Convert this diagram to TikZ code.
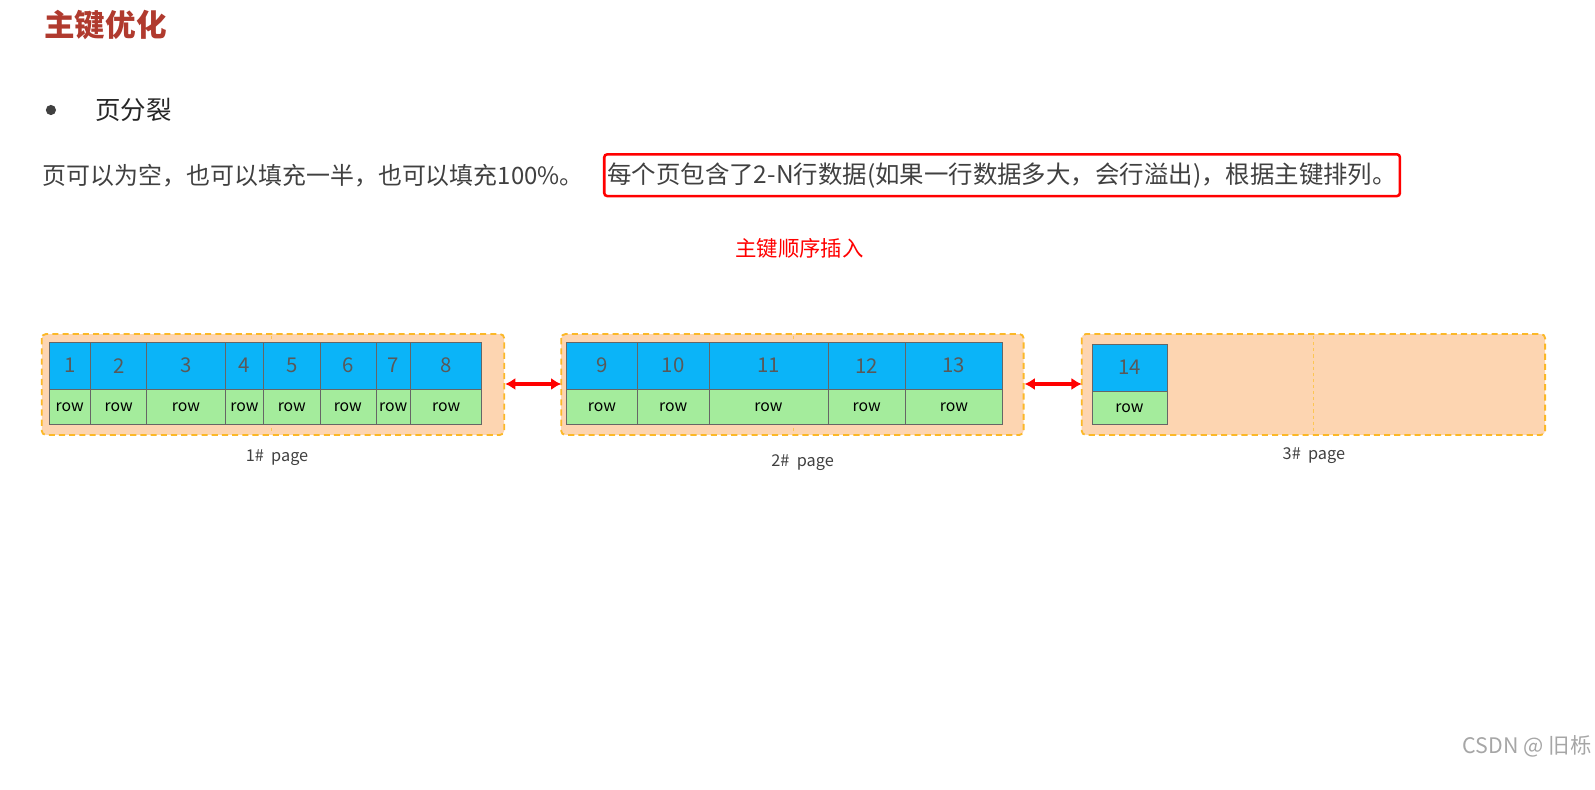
\documentclass[tikz,border=0pt]{standalone}
\usepackage{fontspec}
\setmainfont{Noto Sans CJK SC}
\usetikzlibrary{arrows.meta}
\definecolor{blu}{HTML}{0BB4F8}
\definecolor{grn}{HTML}{A4EC9C}
\definecolor{pg}{HTML}{FDD5B1}
\definecolor{pgb}{HTML}{FBB828}
\definecolor{ttl}{HTML}{B03A2E}
\definecolor{txt}{HTML}{404040}
\begin{document}
\begin{tikzpicture}[x=1pt,y=-1pt,
 page/.style={draw=pgb,fill=pg,line width=1.8pt,dash pattern=on 6pt off 4pt,rounded corners=4pt},
 key/.style={draw=black!60,fill=blu,line width=0.6pt,text=black!65,font=\fontsize{20}{20}\selectfont},
 rw/.style={draw=black!60,fill=grn,line width=0.6pt,font=\fontsize{15.5}{15.5}\selectfont},
 lnk/.style={red,line width=3pt,{Latex[length=10pt,width=12pt]}-{Latex[length=10pt,width=12pt]}},
 lbl/.style={font=\fontsize{16}{16}\selectfont,text=black!75}]
\useasboundingbox (0,0) rectangle (1566,774.7);
\node[anchor=west,text=ttl,font=\fontsize{30}{30}\selectfont\bfseries] (title) at (40,25) {主键优化};
\node[circle,fill=txt,inner sep=0pt,minimum size=10pt] (bul) at (50,108) {};
\node[anchor=west,text=black!85,font=\fontsize{25}{25}\selectfont] (h) at (90,108) {页分裂};
\node[anchor=west,text=txt,font=\fontsize{23.5}{24}\selectfont,inner sep=0pt] (p1) at (42,172) {页可以为空，也可以填充一半，也可以填充100\%。};
\node[anchor=west,text=txt,font=\fontsize{24}{24}\selectfont,inner xsep=3pt,inner ysep=8pt,draw=red,line width=2.5pt,rounded corners=3pt] (p2) at (592,172) {每个页包含了2-N行数据(如果一行数据多大，会行溢出)，根据主键排列。};
\node[text=red,font=\fontsize{21}{21}\selectfont] (sub) at (785,244) {主键顺序插入};
% pages
\draw[page] (41,328) rectangle (495,427);
\draw[page] (551,328) rectangle (1005,427);
\draw[page] (1062,328) rectangle (1517,427);
\draw[pgb!80,line width=0.6pt,dashed] (266,330) -- (266,425);
\draw[pgb!80,line width=0.6pt,dashed] (779,330) -- (779,425);
\draw[pgb!80,line width=0.8pt,dashed] (1290,330) -- (1290,425);
\coordinate (p1r) at (496,377); \coordinate (p2l) at (551,377);
\coordinate (p2r) at (1006,377); \coordinate (p3l) at (1062,377);
\foreach \a/\b/\n in {48/89/1,89/144/2,144/221/3,221/259/4,259/314/5,314/369/6,369/403/7,403/473/8,556/626/9,626/696/10,696/813/11,813/889/12,889/984/13}{
 \node[key,minimum width={(\b-\a)*1pt},minimum height=46pt,inner sep=0pt] (k\n) at ({(\a+\b)/2},359) {\n};
 \node[rw,minimum width={(\b-\a)*1pt},minimum height=35pt,inner sep=0pt] (r\n) at ({(\a+\b)/2},399.5) {row};
}
\node[key,minimum width=74pt,minimum height=46pt,inner sep=0pt] (k14) at (1109,361) {14};
\node[rw,minimum width=74pt,minimum height=33pt,inner sep=0pt] (r14) at (1109,400.5) {row};
\draw[lnk] (p1r) -- (p2l);
\draw[lnk] (p2r) -- (p3l);
\node[lbl] (l1) at (272,449) {1\#\ \ page};
\node[lbl] (l2) at (788,454) {2\#\ \ page};
\node[lbl] (l3) at (1290,447) {3\#\ \ page};
\node[anchor=east,text=black!35,font=\fontsize{21}{21}\selectfont] (wm) at (1566,733) {CSDN @ 旧栎};
\end{tikzpicture}
\end{document}
